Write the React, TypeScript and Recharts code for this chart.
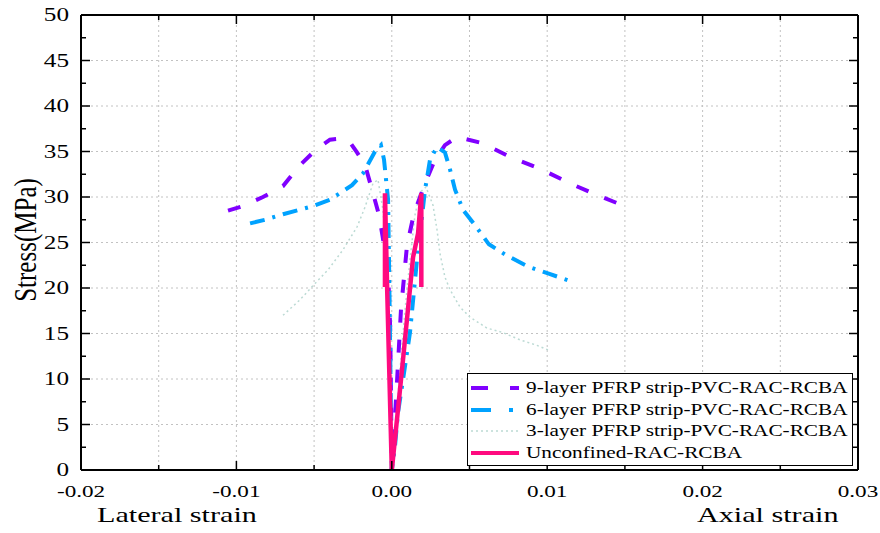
import { LineChart, Line, XAxis, YAxis, CartesianGrid, Legend, ReferenceLine } from "recharts";

// strain (x) vs stress in MPa (y); lateral branch is negative strain, axial positive
const nineLateral: [number, number][] = [
  [0, 0], [-0.00005, 7.7], [-0.0001, 15.4], [-0.00024, 22.0], [-0.0005, 24.7],
  [-0.00082, 28.0], [-0.00127, 30.8], [-0.00172, 33.5], [-0.00224, 34.9], [-0.00269, 36.0],
  [-0.00333, 36.4], [-0.00398, 36.3], [-0.00488, 35.2], [-0.00591, 33.5], [-0.007, 31.2],
  [-0.00829, 30.0], [-0.00958, 29.0], [-0.01054, 28.5],
];
const nineAxial: [number, number][] = [
  [0, 0], [0.00027, 7.7], [0.00059, 17.6], [0.00098, 24.7], [0.00143, 28.2], [0.00214, 31.5],
  [0.00278, 34.1], [0.00342, 35.7], [0.0042, 36.6], [0.00587, 35.9], [0.00761, 34.4],
  [0.00967, 33.0], [0.01147, 31.5], [0.01321, 30.2], [0.01514, 28.9],
];
const sixLateral: [number, number][] = [
  [0, 0], [-0.00005, 5.5], [-0.00012, 15.4], [-0.00018, 23.1], [-0.00024, 29.7],
  [-0.00037, 31.9], [-0.0005, 34.1], [-0.0007, 35.7], [-0.00108, 35.0], [-0.00185, 32.6],
  [-0.00256, 31.3], [-0.00398, 29.7], [-0.00507, 29.0], [-0.007, 28.1], [-0.00816, 27.5],
  [-0.00912, 27.1],
];
const sixAxial: [number, number][] = [
  [0, 0], [0.0002, 2.5], [0.0004, 6.3], [0.00072, 9.9], [0.00117, 15.1], [0.00162, 23.1],
  [0.00214, 30.8], [0.00246, 34.1], [0.00291, 35.5], [0.00342, 34.9], [0.00375, 33.0],
  [0.00407, 30.8], [0.00458, 28.6], [0.00535, 26.9], [0.00625, 24.8], [0.00728, 23.7],
  [0.0087, 22.4], [0.01005, 21.6], [0.0116, 20.7],
];
const threeLateral: [number, number][] = [
  [0, 0], [-0.00005, 5.5], [-0.00012, 12.1], [-0.00024, 18.7], [-0.00037, 24.2],
  [-0.00057, 28.6], [-0.00089, 31.9], [-0.00121, 31.5], [-0.00172, 28.9], [-0.00224, 26.7],
  [-0.00314, 24.2], [-0.0041, 22.0], [-0.00494, 20.5], [-0.00591, 18.7], [-0.007, 17.0],
];
const threeAxial: [number, number][] = [
  [0, 0], [0.00027, 5.5], [0.00053, 11.0], [0.00085, 17.6], [0.00117, 23.1], [0.00149, 28.0],
  [0.00181, 30.5], [0.0022, 31.1], [0.00265, 29.1], [0.00291, 26.4], [0.0031, 23.8],
  [0.00342, 21.2], [0.00375, 19.8], [0.00439, 17.9], [0.00503, 16.8], [0.00612, 15.6],
  [0.00715, 15.1], [0.00825, 14.3], [0.00934, 13.7], [0.01005, 13.2],
];
const unconfinedLateral: [number, number][] = [
  [0, 0], [-0.00015, 10.0], [-0.0003, 20.0], [-0.00044, 30.4], [-0.00044, 20.1],
];
const unconfinedAxial: [number, number][] = [
  [0, 0], [0.0003, 5.0], [0.00072, 12.1], [0.00137, 23.4], [0.00169, 26.0], [0.0019, 30.4], [0.0019, 20.1],
];

const xTicks = [-0.02, -0.015, -0.01, -0.005, 0, 0.005, 0.01, 0.015, 0.02, 0.025, 0.03];
const yTicks = [0, 2.5, 5, 7.5, 10, 12.5, 15, 17.5, 20, 22.5, 25, 27.5, 30, 32.5, 35, 37.5, 40, 42.5, 45, 47.5, 50];
const yGrid = [5, 10, 15, 20, 25, 30, 35, 40, 45];

const FONT = '"Liberation Serif", "Times New Roman", serif';
const STRETCH = 1.36; // the original figure is widened horizontally
const PLOT_TOP = 15;
const PLOT_RIGHT = 858;

const series = [
  { name: "9-layer PFRP strip-PVC-RAC-RCBA", color: "#8000ff", width: 4, dash: "13 17", legendDash: "17 22" },
  { name: "6-layer PFRP strip-PVC-RAC-RCBA", color: "#00a2ff", width: 4, dash: "15 8 3 8", legendDash: "20 18 4 20" },
  { name: "3-layer PFRP strip-PVC-RAC-RCBA", color: "#bcdad4", width: 1.5, dash: "2 3", legendDash: "2 3" },
  { name: "Unconfined-RAC-RCBA", color: "#ff0a7f", width: 4.5, dash: undefined, legendDash: undefined },
];

function join(lateral: [number, number][], axial: [number, number][]) {
  return [...lateral.slice().reverse(), ...axial.slice(1)].map(([x, y]) => ({ x, y }));
}

const nineData = join(nineLateral, nineAxial);
const sixData = join(sixLateral, sixAxial);
const threeData = join(threeLateral, threeAxial);
const unconfinedData = join(unconfinedLateral, unconfinedAxial);

const isMajorX = (v: number) => Math.abs(v * 100 - Math.round(v * 100)) < 1e-6;
const isMajorY = (v: number) => Math.abs(v / 5 - Math.round(v / 5)) < 1e-6;

function XTick({ x, y, payload }: any) {
  const v = payload.value as number;
  const major = isMajorX(v);
  const len = major ? 9 : 5;
  return (
    <g>
      <line x1={x} y1={y} x2={x} y2={y - len} stroke="#000" strokeWidth={1.5} />
      <line x1={x} y1={PLOT_TOP} x2={x} y2={PLOT_TOP + len} stroke="#000" strokeWidth={1.5} />
      {major && (
        <text
          transform={`translate(${x},${y + 27}) scale(${STRETCH},1)`}
          textAnchor="middle"
          fontSize={17}
          fontFamily={FONT}
          fill="#000"
        >
          {v.toFixed(2)}
        </text>
      )}
    </g>
  );
}

function YTick({ x, y, payload }: any) {
  const v = payload.value as number;
  const major = isMajorY(v);
  const len = major ? 9 : 5;
  return (
    <g>
      <line x1={x} y1={y} x2={x + len} y2={y} stroke="#000" strokeWidth={1.5} />
      <line x1={PLOT_RIGHT} y1={y} x2={PLOT_RIGHT - len} y2={y} stroke="#000" strokeWidth={1.5} />
      {major && (
        <text
          transform={`translate(${x - 12},${y}) scale(1.4,1)`}
          textAnchor="end"
          dy="0.35em"
          fontSize={18}
          fontFamily={FONT}
          fill="#000"
        >
          {v}
        </text>
      )}
    </g>
  );
}

function LegendBox() {
  return (
    <div
      style={{
        boxSizing: "border-box",
        width: 386,
        height: 93,
        border: "1px solid #000",
        background: "#fff",
        paddingTop: 3,
        fontFamily: FONT,
      }}
    >
      {series.map((s) => (
        <div key={s.name} style={{ position: "relative", height: 21.7 }}>
          <svg width={56} height={12} style={{ position: "absolute", left: 0, top: 5 }}>
            <line
              x1={3}
              y1={6}
              x2={51}
              y2={6}
              stroke={s.color}
              strokeWidth={s.width === 1.5 ? 1.5 : 4}
              strokeDasharray={s.legendDash}
            />
          </svg>
          <span
            style={{
              position: "absolute",
              left: 58,
              top: 0,
              fontSize: 17,
              lineHeight: "21px",
              whiteSpace: "nowrap",
              transform: "scaleX(1.25)",
              transformOrigin: "left center",
              color: "#000",
            }}
          >
            {s.name}
          </span>
        </div>
      ))}
    </div>
  );
}

const titleStyle: React.CSSProperties = {
  position: "absolute",
  fontFamily: FONT,
  fontSize: 22,
  lineHeight: "22px",
  whiteSpace: "nowrap",
  color: "#000",
  transformOrigin: "left center",
  transform: `scaleX(1.37)`,
};

export default function App() {
  return (
    <div style={{ position: "absolute", left: 0, top: 0, width: 880, height: 533, background: "#fff" }}>
      <LineChart width={880} height={533} margin={{ top: 15, right: 22, bottom: 0, left: 0 }}>
        <CartesianGrid stroke="#c2c2c2" strokeDasharray="2 3" horizontalValues={yGrid} />
        <XAxis
          dataKey="x"
          type="number"
          domain={[-0.02, 0.03]}
          ticks={xTicks}
          interval={0}
          allowDataOverflow
          height={63}
          tickSize={0}
          tickMargin={0}
          tickLine={false}
          axisLine={{ stroke: "#000", strokeWidth: 2 }}
          tick={(p: any) => <XTick {...p} />}
        />
        <YAxis
          type="number"
          domain={[0, 50]}
          ticks={yTicks}
          interval={0}
          allowDataOverflow
          width={81}
          tickSize={0}
          tickMargin={0}
          tickLine={false}
          axisLine={{ stroke: "#000", strokeWidth: 2 }}
          tick={(p: any) => <YTick {...p} />}
        />
        <ReferenceLine y={50} stroke="#000" strokeWidth={2} />
        <ReferenceLine x={0.03} stroke="#000" strokeWidth={2} />
        <Line data={threeData} dataKey="y" name={series[2].name} stroke={series[2].color} strokeWidth={series[2].width} strokeDasharray={series[2].dash} dot={false} isAnimationActive={false} />
        <Line data={nineData} dataKey="y" name={series[0].name} stroke={series[0].color} strokeWidth={series[0].width} strokeDasharray={series[0].dash} dot={false} isAnimationActive={false} />
        <Line data={sixData} dataKey="y" name={series[1].name} stroke={series[1].color} strokeWidth={series[1].width} strokeDasharray={series[1].dash} dot={false} isAnimationActive={false} />
        <Line data={unconfinedData} dataKey="y" name={series[3].name} stroke={series[3].color} strokeWidth={series[3].width} dot={false} isAnimationActive={false} />
        <Legend
          layout="vertical"
          align="center"
          verticalAlign="middle"
          wrapperStyle={{ left: 467, top: 373, width: 386, height: 93 }}
          content={() => <LegendBox />}
        />
      </LineChart>
      <div
        style={{
          position: "absolute",
          left: 25,
          top: 240,
          fontFamily: FONT,
          fontSize: 25,
          lineHeight: "25px",
          whiteSpace: "nowrap",
          color: "#000",
          transform: "translate(-50%,-50%) rotate(-90deg) scale(1,1.3)",
        }}
      >
        Stress(MPa)
      </div>
      <div style={{ ...titleStyle, left: 97, top: 504 }}>Lateral strain</div>
      <div style={{ ...titleStyle, left: 697, top: 504 }}>Axial strain</div>
    </div>
  );
}
